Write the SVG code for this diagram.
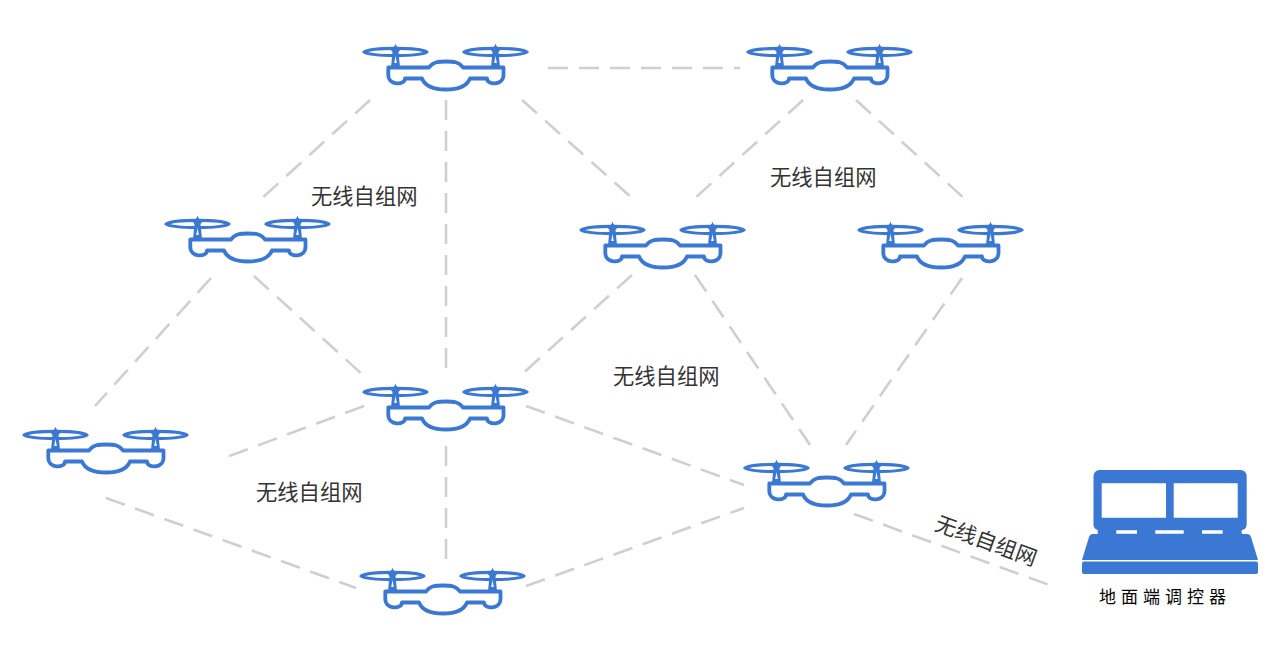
<svg xmlns="http://www.w3.org/2000/svg" width="1280" height="659" viewBox="0 0 1280 659">
<style>
.link{stroke:#cfcfcf;stroke-width:2.6;stroke-dasharray:20 11;fill:none}
.line{fill:none;stroke:#3a78d4;stroke-width:3.800;stroke-linejoin:round;stroke-linecap:round}
.blade{fill:none;stroke:#3a78d4;stroke-width:3.200;stroke-linejoin:round}
.solid{fill:#3a78d4}
.net{font-family:"Noto Sans CJK SC","Liberation Sans",sans-serif;font-size:21.300px;fill:#333}
.dev{font-family:"Noto Sans CJK SC","Liberation Sans",sans-serif;font-size:17px;letter-spacing:5px;fill:#000}
</style>
<defs>
<!-- one rotor: disc outline, hub and mast -->
<g id="rotor">
<path class="blade" d="M1 0C9 -4.800 56 -4.800 64 0C56 4.800 9 4.800 1 0Z"/>
<path class="solid" d="M32.500 -8.500C33 -6 34.500 -4.500 38 -3L35.500 0L37 15H28L29.500 0L27 -3C30.500 -4.500 32 -6 32.500 -8.500Z"/>
<path fill="#fff" d="M32.500 4L33.800 11H31.200Z"/>
</g>
<!-- quadcopter outline, origin at the left rotor tip -->
<g id="drone">
<use href="#rotor"/>
<use href="#rotor" x="100"/>
<path class="line" d="M25.300 15.500H66C70 9.500 76 9.500 83 9.500C90 9.500 96 9.500 100 15.500H140.500V23C140.500 33.500 124 33.500 124 26.500H107C104 34 95 37.500 83 37.500C71 37.500 62 34 59 26.500H42C42 33.500 25.300 33.500 25.300 23Z"/>
</g>
</defs>
<g id="connectors">
<path class="link" d="M548 68H740"/>
<path class="link" d="M370 100L260 200"/>
<path class="link" d="M446 100V370"/>
<path class="link" d="M522 100L632 198"/>
<path class="link" d="M803 100L693 200"/>
<path class="link" d="M856 100L966 200"/>
<path class="link" d="M211 278L95 406"/>
<path class="link" d="M254 276L364 376"/>
<path class="link" d="M632 275L520 376"/>
<path class="link" d="M695 275L810 445"/>
<path class="link" d="M962 278L846 445"/>
<path class="link" d="M364 406L224 458"/>
<path class="link" d="M526 406L744 485"/>
<path class="link" d="M446 446V560"/>
<path class="link" d="M106 498L356 588"/>
<path class="link" d="M526 586L744 508"/>
<path class="link" d="M854 514L1052 586"/>
</g>
<g id="drone-top-left"><use href="#drone" x="363" y="52"/></g>
<g id="drone-top-right"><use href="#drone" x="747" y="52"/></g>
<g id="drone-left"><use href="#drone" x="165" y="224"/></g>
<g id="drone-centre"><use href="#drone" x="580" y="230"/></g>
<g id="drone-right"><use href="#drone" x="858" y="230"/></g>
<g id="drone-middle"><use href="#drone" x="363" y="392"/></g>
<g id="drone-far-left"><use href="#drone" x="23" y="435"/></g>
<g id="drone-lower-right"><use href="#drone" x="744" y="468"/></g>
<g id="drone-bottom"><use href="#drone" x="360" y="576"/></g>
<g id="ground-controller">
<path class="solid" d="M1093.500 476a6 6 0 0 1 6-6H1240.700a6 6 0 0 1 6 6V524a6 6 0 0 1-5 6V534H1247Q1250 534 1251 537L1258 560H1082L1089 537Q1090 534 1093 534H1097.700V530a6 6 0 0 1-4.200-6Z"/>
<rect class="solid" x="1082" y="561.500" width="176" height="12.500" rx="2"/>
<path fill="#fff" d="M1101.700 483.300H1166V517.700H1101.700Z M1173.700 483.300H1237.700V517.700H1173.700Z M1116.300 530.300H1137V533.700H1116.300Z M1155.300 530.300H1183.700V533.700H1155.300Z M1202 530.300H1222.700V533.700H1202Z"/>
<text class="dev" x="1099" y="603">地面端调控器</text>
</g>
<g id="labels">
<text class="net" x="311" y="204">无线自组网</text>
<text class="net" x="770" y="185">无线自组网</text>
<text class="net" x="613" y="384">无线自组网</text>
<text class="net" x="256" y="500">无线自组网</text>
<text class="net" text-anchor="middle" transform="translate(983.500 548) rotate(20)">无线自组网</text>
</g>
</svg>
